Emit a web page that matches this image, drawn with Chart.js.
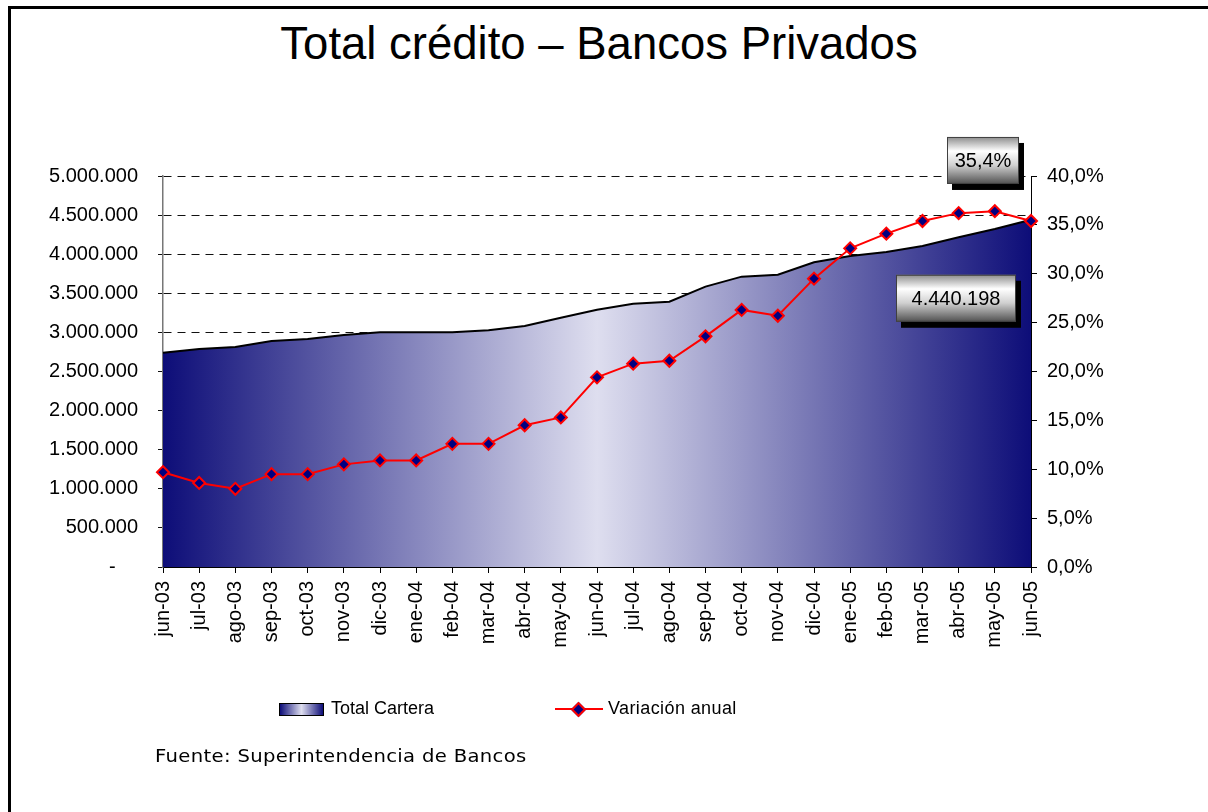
<!DOCTYPE html>
<html lang="es">
<head>
<meta charset="utf-8">
<title>Total crédito – Bancos Privados</title>
<script src="https://cdn.jsdelivr.net/npm/chart.js@4.4.1/dist/chart.umd.min.js"></script>
<style>
    body { margin: 0; background: #fff; width: 1208px; height: 812px; overflow: hidden; position: relative; font-family: 'Liberation Sans', Arial, sans-serif; }
    .marco { position: absolute; left: 8px; top: 6px; width: 1400px; height: 1000px; border: 3px solid #000; }
    #chart { position: absolute; left: 0; top: 0; }
    .titulo { position: absolute; left: 0; width: 1198px; top: 21px; text-align: center; font-size: 45.5px; line-height: 45px; color: #000; }
    .leyenda { position: absolute; font-size: 18px; line-height: 18px; color: #000; white-space: nowrap; }
    .muestra-area { position: absolute; left: 279px; top: 703px; width: 43px; height: 11px; border: 1px solid #000; background: linear-gradient(to right, #0d0d78, #dedeef 50%, #0d0d78); }
    .muestra-linea { position: absolute; left: 555px; top: 708px; width: 48px; height: 2px; background: #ff0000; }
    .muestra-punto { position: absolute; left: 573px; top: 704px; width: 7px; height: 7px; background: #000080; border: 2px solid #ff0000; transform: rotate(45deg); }
    .fuente { position: absolute; left: 155px; top: 747px; font-family: 'DejaVu Sans', sans-serif; font-size: 18px; line-height: 18px; letter-spacing: 0.3px; transform: scaleX(1.09); transform-origin: left center; color: #000; white-space: nowrap; }
</style>
</head>
<body>
<div class="marco"></div>
<div class="titulo">Total crédito – Bancos Privados</div>
<canvas id="chart" width="1208" height="812"></canvas>
<div class="muestra-area"></div>
<div class="leyenda" style="left:331px; top:699px;">Total Cartera</div>
<div class="muestra-linea"></div>
<div class="muestra-punto"></div>
<div class="leyenda" style="left:608px; top:699px; letter-spacing:0.4px;">Variación anual</div>
<div class="fuente">Fuente: Superintendencia de Bancos</div>

<script>
const meses = ['jun-03', 'jul-03', 'ago-03', 'sep-03', 'oct-03', 'nov-03', 'dic-03', 'ene-04', 'feb-04', 'mar-04', 'abr-04', 'may-04',
    'jun-04', 'jul-04', 'ago-04', 'sep-04', 'oct-04', 'nov-04', 'dic-04', 'ene-05', 'feb-05', 'mar-05', 'abr-05', 'may-05', 'jun-05'];

// Total Cartera (eje izquierdo)
const totalCartera = [2740000, 2788000, 2813000, 2890000, 2916000, 2967000, 3001000, 3001000, 3002000, 3027000, 3082000, 3188000,
    3290000, 3367000, 3393000, 3585000, 3713000, 3738000, 3897000, 3977000, 4028000, 4105000, 4216000, 4322000, 4440198];

// Variación anual en % (eje derecho)
const variacionAnual = [9.7, 8.6, 8.0, 9.5, 9.5, 10.5, 10.9, 10.9, 12.6, 12.6, 14.5, 15.3,
    19.4, 20.8, 21.1, 23.6, 26.3, 25.7, 29.5, 32.6, 34.1, 35.4, 36.2, 36.4, 35.4];

const FONT = "'Liberation Sans', Arial, sans-serif";

function formatMiles(v) {
    return Math.round(v).toString().replace(/\B(?=(\d{3})+(?!\d))/g, '.');
}

function formatPct(v) {
    return v.toFixed(1).replace('.', ',') + '%';
}

function degradadoArea(context) {
    const area = context.chart.chartArea;
    if (!area) return 'rgba(0,0,0,0)';
    const g = context.chart.ctx.createLinearGradient(area.left, 0, area.right, 0);
    g.addColorStop(0, '#0d0d78');
    g.addColorStop(0.5, '#dedeef');
    g.addColorStop(1, '#0d0d78');
    return g;
}

function dibujarCaja(ctx, x, y, w, h, texto) {
    ctx.save();
    ctx.fillStyle = '#000';
    ctx.fillRect(x + 5, y + 6, w, h);
    const g = ctx.createLinearGradient(0, y, 0, y + h);
    g.addColorStop(0, '#8c8c8c');
    g.addColorStop(0.3, '#ffffff');
    g.addColorStop(0.6, '#d0d0d0');
    g.addColorStop(1, '#505050');
    ctx.fillStyle = g;
    ctx.fillRect(x, y, w, h);
    ctx.strokeStyle = '#404040';
    ctx.lineWidth = 1;
    ctx.strokeRect(x + 0.5, y + 0.5, w - 1, h - 1);
    ctx.fillStyle = '#000';
    ctx.font = '20px ' + FONT;
    ctx.textAlign = 'center';
    ctx.textBaseline = 'middle';
    ctx.fillText(texto, x + w / 2, y + h / 2 + 1);
    ctx.restore();
}

const etiquetas = {
    id: 'etiquetas',
    afterDatasetsDraw(chart) {
        const last = meses.length - 1;
        const ctx = chart.ctx;
        const x = chart.scales.x.getPixelForValue(last);
        const yPct = chart.scales.y1.getPixelForValue(variacionAnual[last]);
        const yTot = chart.scales.y.getPixelForValue(totalCartera[last]);
        dibujarCaja(ctx, x - 84, yPct - 84, 72, 47, formatPct(variacionAnual[last]));
        dibujarCaja(ctx, x - 135, yTot + 55, 120, 47, formatMiles(totalCartera[last]));
    }
};

new Chart(document.getElementById('chart'), {
    type: 'line',
    data: {
        labels: meses,
        datasets: [
            {
                label: 'Variación anual',
                data: variacionAnual,
                yAxisID: 'y1',
                borderColor: '#ff0000',
                borderWidth: 2,
                pointStyle: 'rectRot',
                pointRadius: 6,
                pointBackgroundColor: '#000080',
                pointBorderColor: '#ff0000',
                pointBorderWidth: 2,
                tension: 0,
                clip: false,
                order: 0
            },
            {
                label: 'Total Cartera',
                data: totalCartera,
                yAxisID: 'y',
                fill: 'origin',
                backgroundColor: degradadoArea,
                borderColor: '#000',
                borderWidth: 2,
                pointRadius: 0,
                tension: 0,
                order: 1
            }
        ]
    },
    options: {
        responsive: false,
        animation: false,
        layout: { padding: { top: 176, bottom: 145, left: 0, right: 0 } },
        plugins: {
            legend: { display: false },
            tooltip: { enabled: false },
            title: { display: false }
        },
        scales: {
            x: {
                offset: false,
                grid: { drawOnChartArea: false, color: '#000', tickLength: 6 },
                border: { color: '#000', width: 2 },
                ticks: {
                    autoSkip: false,
                    minRotation: 90,
                    maxRotation: 90,
                    padding: 8,
                    color: '#000',
                    font: { family: FONT, size: 20 }
                },
                afterFit: (s) => { s.height = 100; }
            },
            y: {
                position: 'left',
                min: 0,
                max: 5000000,
                grid: { color: '#111', tickLength: 5 },
                border: { color: '#777', width: 1.5, dash: [8, 6] },
                ticks: {
                    stepSize: 500000,
                    padding: 20,
                    color: '#000',
                    font: { family: FONT, size: 20 },
                    callback: (v) => (v === 0 ? '-    ' : formatMiles(v))
                },
                afterFit: (s) => { s.width = 163; }
            },
            y1: {
                position: 'right',
                min: 0,
                max: 40,
                grid: { drawOnChartArea: false, color: '#000', tickLength: 6 },
                border: { color: '#000', width: 1 },
                ticks: {
                    stepSize: 5,
                    padding: 10,
                    color: '#000',
                    font: { family: FONT, size: 20 },
                    callback: (v) => formatPct(v)
                },
                afterFit: (s) => { s.width = 177; }
            }
        }
    },
    plugins: [etiquetas]
});
</script>
</body>
</html>
